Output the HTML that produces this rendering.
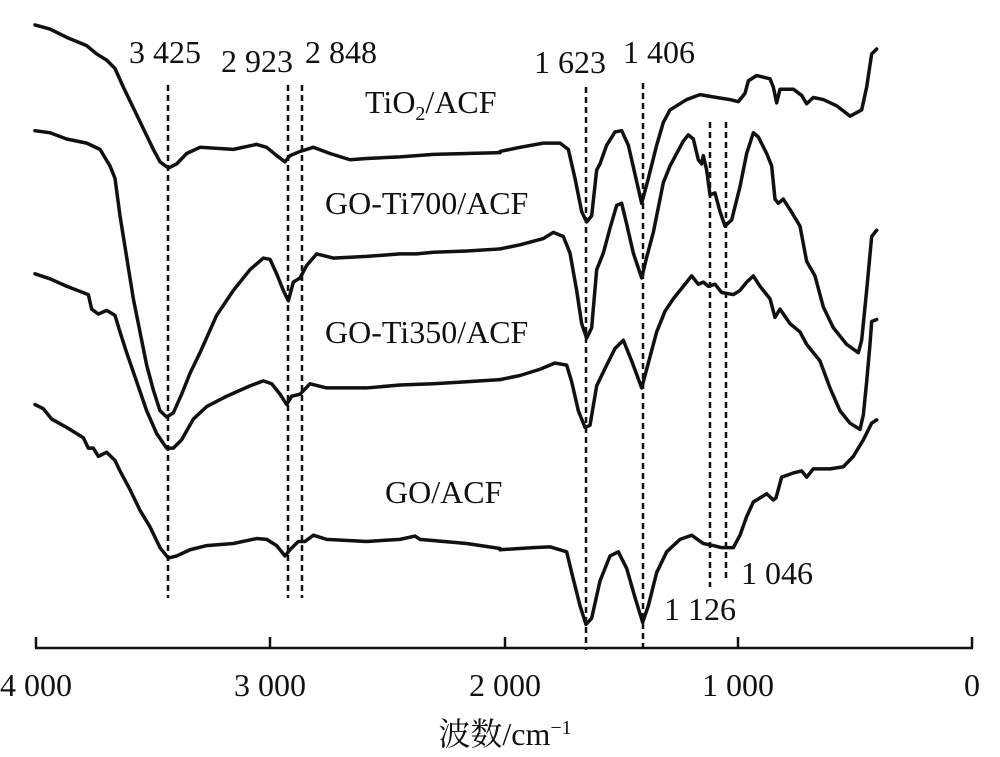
<!DOCTYPE html>
<html><head><meta charset="utf-8"><style>html,body{margin:0;padding:0;background:#fff}svg{display:block}</style></head>
<body>
<svg width="1000" height="757" viewBox="0 0 1000 757" xmlns="http://www.w3.org/2000/svg" font-family="Liberation Serif, serif" fill="#111">
<g fill="none" stroke="#111" stroke-width="3.5" stroke-linejoin="round" stroke-linecap="round">
<g transform="scale(0.33333,0.4149)">
<polyline vector-effect="non-scaling-stroke" points="105,60 150,70 200,90 260,110 290,130 320,145 345,165 370,210 400,260 430,310 460,360 480,390 505,405 530,395 560,370 600,355 700,360 770,348 800,355 830,375 855,390 870,375 900,365 940,355 990,370 1050,385 1100,382 1200,378 1300,372 1400,370 1500,368"/>
<polyline vector-effect="non-scaling-stroke" points="105,315 150,320 200,335 260,345 300,360 330,400 345,430 360,520 380,620 400,720 420,800 440,880 460,940 480,990 500,1005 520,995 545,950 570,900 600,850 650,760 700,700 750,650 790,622 810,625 830,660 850,700 865,725 880,680 900,670 920,640 950,612 1000,622 1100,618 1200,612 1250,612 1300,608 1400,605 1500,600"/>
<polyline vector-effect="non-scaling-stroke" points="105,660 150,672 200,690 265,710 275,745 295,757 320,748 345,760 360,800 380,850 410,920 440,990 470,1045 500,1080 520,1080 545,1060 580,1010 620,980 680,955 750,930 790,918 815,925 840,950 860,975 875,955 900,950 930,925 980,935 1100,935 1200,928 1300,925 1400,920 1500,915"/>
<polyline vector-effect="non-scaling-stroke" points="105,975 130,985 155,1010 200,1030 250,1055 265,1080 280,1080 295,1100 320,1090 345,1110 360,1135 390,1180 420,1230 450,1270 480,1320 505,1345 530,1340 570,1325 620,1315 700,1310 770,1298 800,1300 830,1315 855,1340 870,1325 895,1305 915,1305 940,1290 980,1300 1100,1305 1200,1300 1245,1292 1260,1300 1400,1310 1500,1322"/>
</g>
<g transform="translate(500,0) scale(0.33333,0.4149)">
<polyline vector-effect="non-scaling-stroke" points="0,365 60,355 130,345 180,345 205,360 225,430 245,510 260,535 275,520 290,410 300,395 320,350 345,318 365,315 385,350 405,420 425,490 445,430 470,350 490,295 510,265 560,240 600,228 650,235 690,240 715,245 735,225 745,195 770,182 810,190 820,210 830,248 840,215 880,215 905,230 920,250 940,235 970,240 1010,255 1050,280 1085,265 1100,210 1115,130 1130,118"/>
<polyline vector-effect="non-scaling-stroke" points="0,600 60,590 130,575 160,560 190,570 210,610 230,700 245,780 260,815 275,790 290,650 310,610 330,550 350,495 365,490 380,540 400,610 425,670 440,620 460,560 490,440 510,400 550,340 565,325 580,335 595,385 605,395 610,375 620,410 630,470 645,465 660,510 675,545 695,530 720,450 740,370 760,320 775,330 800,370 815,400 825,480 835,490 850,480 870,505 900,545 920,630 945,665 970,740 1000,790 1040,830 1075,850 1085,820 1100,700 1115,570 1130,555"/>
<polyline vector-effect="non-scaling-stroke" points="0,915 60,905 120,890 165,875 200,880 215,920 235,990 255,1030 270,1025 290,930 320,880 345,840 370,820 395,870 425,935 440,890 470,800 495,750 520,720 560,680 575,665 595,685 610,680 625,690 645,685 665,705 700,710 720,700 740,680 760,665 780,690 810,720 825,765 840,745 870,780 900,800 920,830 960,870 990,935 1020,990 1050,1020 1080,1035 1090,1000 1100,920 1110,830 1115,775 1130,770"/>
<polyline vector-effect="non-scaling-stroke" points="0,1325 100,1320 150,1318 200,1330 215,1380 240,1460 258,1505 275,1490 300,1400 330,1340 355,1330 380,1370 405,1440 428,1500 445,1460 470,1380 500,1330 540,1300 575,1290 610,1310 640,1315 665,1320 700,1320 720,1290 740,1245 760,1210 800,1190 820,1205 828,1200 845,1150 880,1140 905,1135 920,1150 940,1130 990,1130 1030,1125 1060,1100 1090,1060 1115,1020 1130,1012"/>
</g>
</g>
<g stroke="#111" stroke-width="2.5" stroke-dasharray="6,4" fill="none">
<line x1="168" y1="85" x2="168" y2="598"/>
<line x1="288" y1="85" x2="288" y2="598"/>
<line x1="302" y1="85" x2="302" y2="598"/>
<line x1="586" y1="87" x2="586" y2="650"/>
<line x1="643" y1="83" x2="643" y2="650"/>
<line x1="710" y1="122" x2="710" y2="587"/>
<line x1="726" y1="122" x2="726" y2="580"/>
</g>
<g stroke="#111" stroke-width="2.5">
<line x1="35" y1="648" x2="973" y2="648"/>
<line x1="36" y1="637" x2="36" y2="648"/>
<line x1="270" y1="637" x2="270" y2="648"/>
<line x1="505" y1="637" x2="505" y2="648"/>
<line x1="738" y1="637" x2="738" y2="648"/>
<line x1="972" y1="637" x2="972" y2="648"/>
</g>
<g font-size="32">
<text x="165" y="63" text-anchor="middle">3 425</text>
<text x="257" y="72" text-anchor="middle">2 923</text>
<text x="341" y="63" text-anchor="middle">2 848</text>
<text x="570" y="73" text-anchor="middle">1 623</text>
<text x="659" y="63" text-anchor="middle">1 406</text>
<text x="700" y="620" text-anchor="middle">1 126</text>
<text x="777" y="584" text-anchor="middle">1 046</text>
<text x="365" y="113">TiO<tspan font-size="20" dy="7">2</tspan><tspan dy="-7">/ACF</tspan></text>
<text x="325" y="214">GO-Ti700/ACF</text>
<text x="325" y="343">GO-Ti350/ACF</text>
<text x="385" y="503">GO/ACF</text>
<text x="36" y="696" text-anchor="middle">4 000</text>
<text x="270" y="696" text-anchor="middle">3 000</text>
<text x="505" y="696" text-anchor="middle">2 000</text>
<text x="738" y="696" text-anchor="middle">1 000</text>
<text x="972" y="696" text-anchor="middle">0</text>
<text x="505" y="745" text-anchor="middle" font-family="Liberation Serif, Noto Serif CJK SC, serif">波数/cm<tspan font-size="20" dy="-11">−1</tspan></text>
</g>
</svg>
</body></html>
